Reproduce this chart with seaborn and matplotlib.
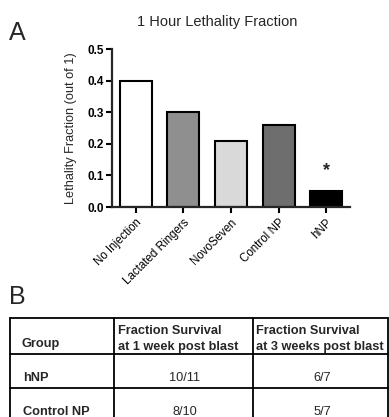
import matplotlib
matplotlib.use("Agg")
import matplotlib.pyplot as plt
import seaborn as sns
import pandas as pd

sns.set_theme(style="ticks")
plt.rcParams['font.family'] = ['Liberation Sans', 'DejaVu Sans']

groups = ["No Injection", "Lactated Ringers", "NovoSeven", "Control NP", "hNP"]
lethality = [0.40, 0.30, 0.21, 0.26, 0.05]
bar_colors = ["#ffffff", "#8f8f8f", "#d9d9d9", "#6e6e6e", "#000000"]
yticks = [0.0, 0.1, 0.2, 0.3, 0.4, 0.5]

table_header = ["Group", "Fraction Survival\nat 1 week post blast", "Fraction Survival\nat 3 weeks post blast"]
table_groups = ["hNP", "Control NP"]
week1 = ["10/11", "8/10"]
week3 = ["6/7", "5/7"]

W, H = 389, 417
fig = plt.figure(figsize=(W / 100, H / 100), dpi=100)

def fx(px):
    return px / W

def fy(py):
    return 1 - py / H

ax = fig.add_axes([fx(112), fy(207), fx(350) - fx(112), fy(49) - fy(207)])
df = pd.DataFrame({"group": groups, "value": lethality})
sns.barplot(data=df, x="group", y="value", hue="group", palette=bar_colors,
            width=0.67, edgecolor="black", linewidth=1.5, legend=False, ax=ax,
            saturation=1)
ax.set_xlim(-0.5, 4.5)
ax.set_ylim(0, 0.5)
ax.set_yticks(yticks)
ax.set_yticklabels([f"{v:.1f}" for v in yticks], fontsize=8.5, fontweight="bold")
ax.set_xlabel("")
ax.set_ylabel("Lethality Fraction (out of 1)", fontsize=9.2, labelpad=8)
ax.set_xticks(range(len(groups)))
ax.set_xticklabels(groups, rotation=45, ha="right", rotation_mode="anchor", fontsize=8.3)
for s in ["top", "right"]:
    ax.spines[s].set_visible(False)
for s in ["left", "bottom"]:
    ax.spines[s].set_linewidth(1.6)
ax.tick_params(axis="both", width=1.5, length=4, pad=1.5, colors="black")
ax.tick_params(axis="x", pad=3)
ax.text(4, lethality[4] + 0.065, "*", ha="center", va="center", fontsize=13, fontweight="bold")

fig.text(fx(217), fy(22), "1 Hour Lethality Fraction", ha="center", va="center", fontsize=10.5)
fig.text(fx(9), fy(33), "A", ha="left", va="center", fontsize=18)
fig.text(fx(9), fy(297), "B", ha="left", va="center", fontsize=18)

# Table
tax = fig.add_axes([0, 0, 1, 1])
tax.set_xlim(0, W)
tax.set_ylim(H, 0)
tax.axis("off")
col_x = [10, 114, 253, 388]
row_y = [318, 354, 388, 430]
lw = 1.3
for x in col_x:
    tax.plot([x, x], [row_y[0], H + 5], color="black", lw=lw, clip_on=False)
for y in row_y[:3]:
    tax.plot([col_x[0], col_x[-1]], [y, y], color="black", lw=lw)

fs = 9.2
tax.text(22, 344, table_header[0], ha="left", va="center", fontsize=fs, fontweight="bold")
tax.text(118, 339, table_header[1], ha="left", va="center", fontsize=fs, fontweight="bold", linespacing=1.35)
tax.text(256, 339, table_header[2], ha="left", va="center", fontsize=fs, fontweight="bold", linespacing=1.35)
row_centers = [378, 412]
for i, g in enumerate(table_groups):
    tax.text(23, row_centers[i], g, ha="left", va="center", fontsize=fs, fontweight="bold")
    tax.text(185, row_centers[i], week1[i], ha="center", va="center", fontsize=fs)
    tax.text(322, row_centers[i], week3[i], ha="center", va="center", fontsize=fs)

fig.savefig("out.png", dpi=100)
